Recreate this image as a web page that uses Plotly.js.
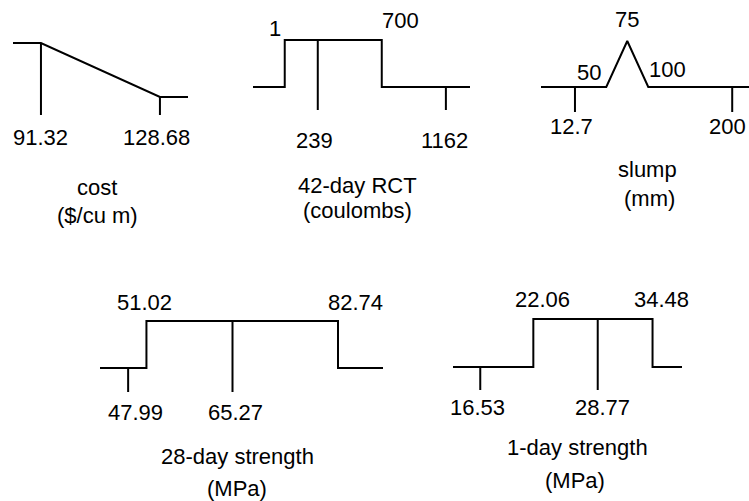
<!DOCTYPE html>
<html>
<head>
<meta charset="utf-8">
<script src="https://cdn.plot.ly/plotly-3.0.1.min.js"></script>
<style>html,body{margin:0;padding:0;background:#fff;}#chart{width:749px;height:501px;}</style>
</head>
<body>
<div id="chart"></div>
<script>
// ---- data: desirability curve breakpoints (value, desirability), ticked values, labelled break values, titles ----
const costX = [91.32, 128.68];
const costD = [1, 0];
const costTicks = [91.32, 128.68];
const costTop = [];
const costTitle = ['cost', '($/cu m)'];

const rctX = [1, 1, 700, 700];
const rctD = [0, 1, 1, 0];
const rctTicks = [239, 1162];
const rctTop = [1, 700];
const rctTitle = ['42-day RCT', '(coulombs)'];

const slumpX = [50, 75, 100];
const slumpD = [0, 1, 0];
const slumpTicks = [12.7, 200];
const slumpTop = [50, 75, 100];
const slumpTitle = ['slump', '(mm)'];

const s28X = [51.02, 51.02, 82.74, 82.74];
const s28D = [0, 1, 1, 0];
const s28Ticks = [47.99, 65.27];
const s28Top = [51.02, 82.74];
const s28Title = ['28-day strength', '(MPa)'];

const s1X = [22.06, 22.06, 34.48, 34.48];
const s1D = [0, 1, 1, 0];
const s1Ticks = [16.53, 28.77];
const s1Top = [22.06, 34.48];
const s1Title = ['1-day strength', '(MPa)'];

// ---- layout (positions / styles) ----
const W = 749, H = 501;
const YR = [-2, 1.6];
const FONT = {family: 'Liberation Sans, Arial, sans-serif', size: 22, color: '#000'};
const LINE = {color: '#000', width: 2};

const panels = [
  {xs: costX, ds: costD, ticks: costTicks, tops: costTop, title: costTitle,
   px: [13, 188], range: [82.54, 137.49], y1: 43, y0: 97, tickBottom: -0.333, belowY: -0.741,
   tickShift: [0, -3], topY: [], topShift: [], titlePx: [[97, 187.5], [97, 215]]},
  {xs: rctX, ds: rctD, ticks: rctTicks, tops: rctTop, title: rctTitle,
   px: [253, 470], range: [-227.7, 1335.7], y1: 40, y0: 87, tickBottom: -0.489, belowY: -1.149,
   tickShift: [-3, -1], topY: [1.245, 1.415], topShift: [-10, 19], titlePx: [[357, 185.5], [357, 210]]},
  {xs: slumpX, ds: slumpD, ticks: slumpTicks, tops: slumpTop, title: slumpTitle,
   px: [541, 749], range: [-27.76, 220.0], y1: 41, y0: 87, tickBottom: -0.543, belowY: -0.848,
   tickShift: [-3, -5], topY: [0.326, 1.457, 0.391], topShift: [-17, 0, 19], titlePx: [[647, 169.5], [649, 198]]},
  {xs: s28X, ds: s28D, ticks: s28Ticks, tops: s28Top, title: s28Title,
   px: [100, 383], range: [43.33, 90.19], y1: 321, y0: 368, tickBottom: -0.511, belowY: -0.957,
   tickShift: [7, 2.5], topY: [1.404, 1.404], topShift: [-1.5, 17], titlePx: [[237, 456.5], [237, 488]]},
  {xs: s1X, ds: s1D, ticks: s1Ticks, tops: s1Top, title: s1Title,
   px: [453, 682], range: [13.69, 37.55], y1: 319, y0: 367, tickBottom: -0.479, belowY: -0.854,
   tickShift: [-3, 5], topY: [1.396, 1.396], topShift: [9, 8.5], titlePx: [[577, 447.5], [575, 480.5]]}
];

function desirability(xs, ds, v) {
  for (let i = 0; i < xs.length - 1; i++) {
    if (v >= xs[i] && v <= xs[i + 1]) {
      if (xs[i + 1] === xs[i]) return ds[i + 1];
      return ds[i] + (ds[i + 1] - ds[i]) * (v - xs[i]) / (xs[i + 1] - xs[i]);
    }
  }
  return v < xs[0] ? ds[0] : ds[ds.length - 1];
}

const traces = [];
const annotations = [];
const layout = {
  width: W, height: H,
  margin: {l: 0, r: 0, t: 0, b: 0, pad: 0},
  paper_bgcolor: '#fff', plot_bgcolor: 'rgba(0,0,0,0)',
  showlegend: false, hovermode: false,
  font: FONT,
  annotations: annotations
};

panels.forEach((p, i) => {
  const k = i === 0 ? '' : String(i + 1);
  const xa = 'x' + k, ya = 'y' + k;
  const pxPerUnit = p.y0 - p.y1;
  layout['xaxis' + k] = {
    domain: [p.px[0] / W, p.px[1] / W], range: p.range, anchor: ya,
    visible: false, fixedrange: true
  };
  layout['yaxis' + k] = {
    domain: [1 - (p.y0 - YR[0] * pxPerUnit) / H, 1 - (p.y1 - (YR[1] - 1) * pxPerUnit) / H],
    range: YR, anchor: xa, visible: false, fixedrange: true
  };

  // curve with flat tails to the edges of the panel axis
  const cx = [p.range[0]].concat(p.xs, [p.range[1]]);
  const cy = [p.ds[0]].concat(p.ds, [p.ds[p.ds.length - 1]]);
  traces.push({type: 'scatter', mode: 'lines', x: cx, y: cy, xaxis: xa, yaxis: ya,
               line: LINE, cliponaxis: false, hoverinfo: 'skip'});

  // tick marks from the curve down
  const tx = [], ty = [];
  p.ticks.forEach(v => {
    tx.push(v, v, null);
    ty.push(desirability(cx, cy, v), p.tickBottom, null);
  });
  traces.push({type: 'scatter', mode: 'lines', x: tx, y: ty, xaxis: xa, yaxis: ya,
               line: LINE, cliponaxis: false, hoverinfo: 'skip'});

  // labels under the ticks
  p.ticks.forEach((v, j) => {
    annotations.push({xref: xa, yref: ya, x: v, y: p.belowY, text: String(v), showarrow: false,
                      xanchor: 'center', yanchor: 'middle', xshift: p.tickShift[j], font: FONT});
  });
  // labels at the break points
  p.tops.forEach((v, j) => {
    annotations.push({xref: xa, yref: ya, x: v, y: p.topY[j], text: String(v), showarrow: false,
                      xanchor: 'center', yanchor: 'middle', xshift: p.topShift[j], font: FONT});
  });
  // two-line title
  p.title.forEach((t, j) => {
    annotations.push({xref: 'paper', yref: 'paper', x: p.titlePx[j][0] / W, y: 1 - p.titlePx[j][1] / H,
                      text: t, showarrow: false, xanchor: 'center', yanchor: 'middle', font: FONT});
  });
});

Plotly.newPlot('chart', traces, layout, {staticPlot: true, displayModeBar: false});
</script>
</body>
</html>
